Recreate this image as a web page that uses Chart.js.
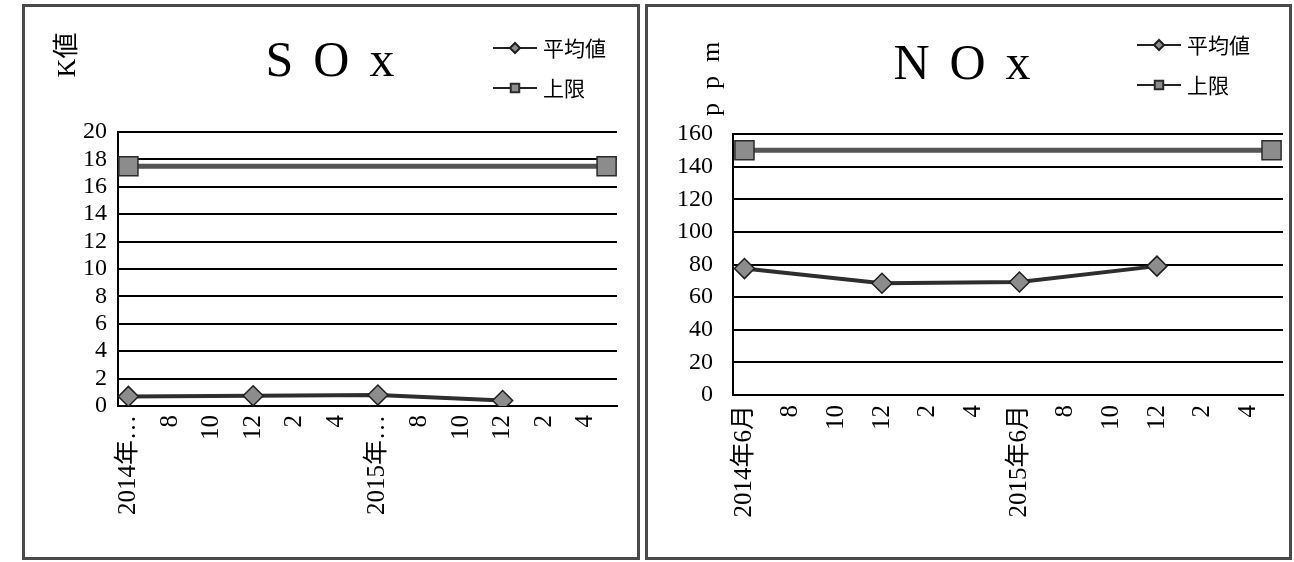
<!DOCTYPE html>
<html>
<head>
<meta charset="utf-8">
<script src="https://cdn.jsdelivr.net/npm/chart.js@4/dist/chart.umd.min.js"></script>
<style>
  html, body { margin: 0; padding: 0; background: #fff; width: 1294px; height: 562px; overflow: hidden; }
  .panel { position: absolute; box-sizing: border-box; border: 3px solid #4a4a4a; top: 4px; height: 556px; background: #fff; }
  .panel canvas { position: absolute; left: 0; top: 0; }
</style>
</head>
<body>
<div class="panel" style="left:22px;width:618px"><canvas id="sox" width="612" height="550"></canvas></div>
<div class="panel" style="left:645px;width:647px"><canvas id="nox" width="641" height="550"></canvas></div>
<script>
// Monthly categories, June 2014 to May 2016
const months = [
  '2014-06', '2014-07', '2014-08', '2014-09', '2014-10', '2014-11',
  '2014-12', '2015-01', '2015-02', '2015-03', '2015-04', '2015-05',
  '2015-06', '2015-07', '2015-08', '2015-09', '2015-10', '2015-11',
  '2015-12', '2016-01', '2016-02', '2016-03', '2016-04', '2016-05'
];

// Labels shown under every second month
const soxTickLabels = ['2014年…', '8', '10', '12', '2', '4', '2015年…', '8', '10', '12', '2', '4'];
const noxTickLabels = ['2014年6月', '8', '10', '12', '2', '4', '2015年6月', '8', '10', '12', '2', '4'];

// Half-yearly measurements
const avgMonths = ['2014-06', '2014-12', '2015-06', '2015-12'];
const soxAvg = [0.7, 0.75, 0.8, 0.4];
const noxAvg = [77.5, 68.5, 69.3, 79];

// Regulatory limit
const limitMonths = ['2014-06', '2016-05'];
const soxLimit = [17.5, 17.5];
const noxLimit = [150, 150];

// Value axis ranges: min, max, step
const soxAxis = [0, 20, 2];
const noxAxis = [0, 160, 20];

const SERIF = '"Liberation Serif", "Noto Sans CJK JP", serif';
const CJK = '"Noto Sans CJK JP", sans-serif';

const points = (xs, ys) => xs.map((x, i) => ({ x, y: ys[i] }));

// Title, rotated unit label and the stacked legend in the top band
const decorations = {
  id: 'decorations',
  afterDraw(chart, args, o) {
    const ctx = chart.ctx;
    ctx.save();
    ctx.fillStyle = '#000';
    ctx.textBaseline = 'middle';

    // chart title
    ctx.font = '50px ' + SERIF;
    ctx.letterSpacing = o.titleSpacing + 'px';
    ctx.textAlign = 'center';
    ctx.fillText(o.title, o.titleX + o.titleSpacing / 2, o.titleY);

    // unit label, reading bottom to top
    ctx.save();
    ctx.translate(o.unitX, o.unitY);
    ctx.rotate(-Math.PI / 2);
    ctx.font = o.unitFont;
    ctx.letterSpacing = o.unitSpacing + 'px';
    ctx.fillText(o.unit, o.unitSpacing / 2, 0);
    ctx.restore();

    // legend
    ctx.letterSpacing = '0px';
    ctx.textAlign = 'left';
    chart.data.datasets.forEach((ds, i) => {
      const y = o.legendY + i * o.legendGap;
      ctx.strokeStyle = '#222';
      ctx.lineWidth = 2;
      ctx.beginPath();
      ctx.moveTo(o.legendX, y);
      ctx.lineTo(o.legendX + 44, y);
      ctx.stroke();
      ctx.fillStyle = ds.pointBackgroundColor;
      ctx.strokeStyle = ds.pointBorderColor;
      Chart.helpers.drawPoint(ctx, {
        pointStyle: ds.pointStyle,
        radius: ds.pointStyle === 'rect' ? 6 : 5,
        rotation: 0,
        borderWidth: 1
      }, o.legendX + 22, y);
      ctx.fillStyle = '#000';
      ctx.font = '21px ' + CJK;
      ctx.fillText(ds.label, o.legendX + 50, y);
    });
    ctx.restore();
  }
};

function makeChart(id, cfg) {
  return new Chart(document.getElementById(id), {
    type: 'line',
    data: {
      labels: months,
      datasets: [
        {
          label: '平均値',
          data: points(avgMonths, cfg.avg),
          borderColor: '#2e2e2e',
          borderWidth: 4,
          pointStyle: 'rectRot',
          pointRadius: 10,
          pointBackgroundColor: '#8c8c8c',
          pointBorderColor: '#1e1e1e',
          pointBorderWidth: 1.5,
          spanGaps: true,
          tension: 0
        },
        {
          label: '上限',
          data: points(limitMonths, cfg.limit),
          borderColor: '#555',
          borderWidth: 5,
          pointStyle: 'rect',
          pointRadius: 13.5,
          pointBackgroundColor: '#8c8c8c',
          pointBorderColor: '#2a2a2a',
          pointBorderWidth: 1.5,
          spanGaps: true,
          tension: 0
        }
      ]
    },
    options: {
      responsive: false,
      animation: false,
      devicePixelRatio: 1,
      layout: { autoPadding: false, padding: { top: cfg.top, right: cfg.right, left: 0, bottom: 0 } },
      plugins: {
        legend: { display: false },
        tooltip: { enabled: false },
        title: { display: false },
        decorations: cfg.deco
      },
      scales: {
        x: {
          type: 'category',
          offset: true,
          grid: { display: false, drawTicks: false },
          border: { display: true, color: '#000', width: 2 },
          ticks: {
            autoSkip: false,
            minRotation: 90,
            maxRotation: 90,
            padding: cfg.xPad,
            color: '#000',
            font: { family: SERIF, size: 25 },
            callback: (v, i) => (i % 2 === 0 ? cfg.tickLabels[i / 2] : '')
          },
          afterFit: s => {
            s.height = cfg.xHeight;
            s.paddingLeft = 0;
            s.paddingRight = 0;
          }
        },
        y: {
          min: cfg.axis[0],
          max: cfg.axis[1],
          grid: { color: '#000', lineWidth: 2, drawTicks: false },
          border: { display: true, color: '#000', width: 2 },
          ticks: {
            autoSkip: false,
            stepSize: cfg.axis[2],
            padding: cfg.yPad,
            color: '#000',
            font: { family: SERIF, size: 24 }
          },
          afterFit: s => { s.width = cfg.yWidth; }
        }
      }
    },
    plugins: [decorations]
  });
}

makeChart('sox', {
  avg: soxAvg, limit: soxLimit, axis: soxAxis, tickLabels: soxTickLabels,
  top: 125, right: 20, yWidth: 93, yPad: 11, xHeight: 151, xPad: 9,
  deco: {
    title: 'SOx', titleX: 305, titleY: 56, titleSpacing: 20,
    unit: 'K値', unitX: 43, unitY: 48, unitFont: '26px ' + SERIF, unitSpacing: 0,
    legendX: 468, legendY: 41, legendGap: 40
  }
});

makeChart('nox', {
  avg: noxAvg, limit: noxLimit, axis: noxAxis, tickLabels: noxTickLabels,
  top: 127, right: 6, yWidth: 85, yPad: 20, xHeight: 162, xPad: 10,
  deco: {
    title: 'NOx', titleX: 314, titleY: 59, titleSpacing: 20,
    unit: 'ppm', unitX: 64, unitY: 72, unitFont: '26px ' + SERIF, unitSpacing: 14,
    legendX: 489, legendY: 38, legendGap: 40
  }
});
</script>
</body>
</html>
